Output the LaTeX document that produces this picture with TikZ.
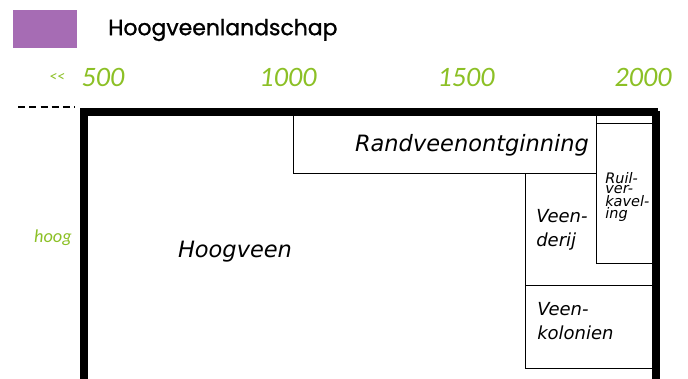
\documentclass[tikz,border=0pt]{standalone}
\usepackage{fontspec}
\setmainfont{DejaVu Sans}
\newfontfamily\kopfont[FakeBold=1.2]{Poppins}
\newfontfamily\jaarfont{Carlito}
\definecolor{paars}{RGB}{166,108,180}
\definecolor{groen}{RGB}{140,192,38}
\newcommand{\pix}{0.025cm}

\begin{document}
\begin{tikzpicture}[x=\pix, y=-\pix,
    vak/.style={draw, rectangle, anchor=north west, line width=0.8pt, inner sep=0pt},
    tekst/.style={font=\fontsize{16}{19}\selectfont\itshape, inner sep=0pt},
    jaar/.style={text=groen, font=\jaarfont\fontsize{20}{24}\selectfont\itshape, inner sep=0pt}]
    \clip (0,0) rectangle (688,378);

    % Legenda
    \node[fill=paars, anchor=north west, minimum width=64*\pix, minimum height=38*\pix, inner sep=0pt] (legenda) at (13,10) {};
    \node[anchor=west, inner sep=0pt, font=\kopfont\fontsize{15.6}{18}\selectfont] (legendatekst) at (108,30) {Hoogveenlandschap};

    % Tijdas
    \node[jaar, font=\jaarfont\fontsize{11}{13}\selectfont\itshape] (ouder) at (57,77) {<<};
    \node[jaar] (j500) at (103,77) {500};
    \node[jaar] (j1000) at (288,77) {1000};
    \node[jaar] (j1500) at (466,77) {1500};
    \node[jaar] (j2000) at (643,77) {2000};

    % Hoogte-as
    \coordinate (streep-a) at (18,107);
    \coordinate (streep-b) at (75,107);
    \draw[line width=1.4pt, dash pattern=on 5pt off 3pt] (streep-a) -- (streep-b);
    \node[jaar, font=\jaarfont\fontsize{13}{15}\selectfont\itshape] (hoog) at (53,238) {hoog};

    % Vakken
    \node[vak, line width=3.6pt, minimum width=572*\pix, minimum height=300*\pix] (hoogveen) at (83,111) {};
    \node[vak, minimum width=303*\pix, minimum height=62*\pix] (randveen) at (293,111) {};
    \node[vak, minimum width=130*\pix, minimum height=112*\pix] (veenderij) at (525,173) {};
    \node[vak, minimum width=130*\pix, minimum height=83*\pix] (kolonien) at (525,285) {};
    \node[vak, fill=white, minimum width=59*\pix, minimum height=140*\pix] (ruil) at (596,123) {};
    \draw[line width=3.6pt] (83,420) -- (83,111) -- (655,111) -- (655,420);

    % Teksten
    \node[tekst] (hoogveen-t) at (235,252) {Hoogveen};
    \node[tekst] (randveen-t) at (472,145) {Randveenontginning};
    \node[tekst, font=\fontsize{12.8}{17}\selectfont\itshape, align=left, anchor=west] (veenderij-t) at (536,230) {Veen-\\derij};
    \node[tekst, font=\fontsize{12.8}{17.5}\selectfont\itshape, align=left, anchor=west] (kolonien-t) at (537,321) {Veen-\\kolonien};
    \node[tekst, font=\fontsize{10.3}{7.3}\selectfont\itshape, align=left, anchor=west] (ruil-t) at (605,197) {Ruil-\\ver-\\kavel-\\ing};
\end{tikzpicture}
\end{document}
